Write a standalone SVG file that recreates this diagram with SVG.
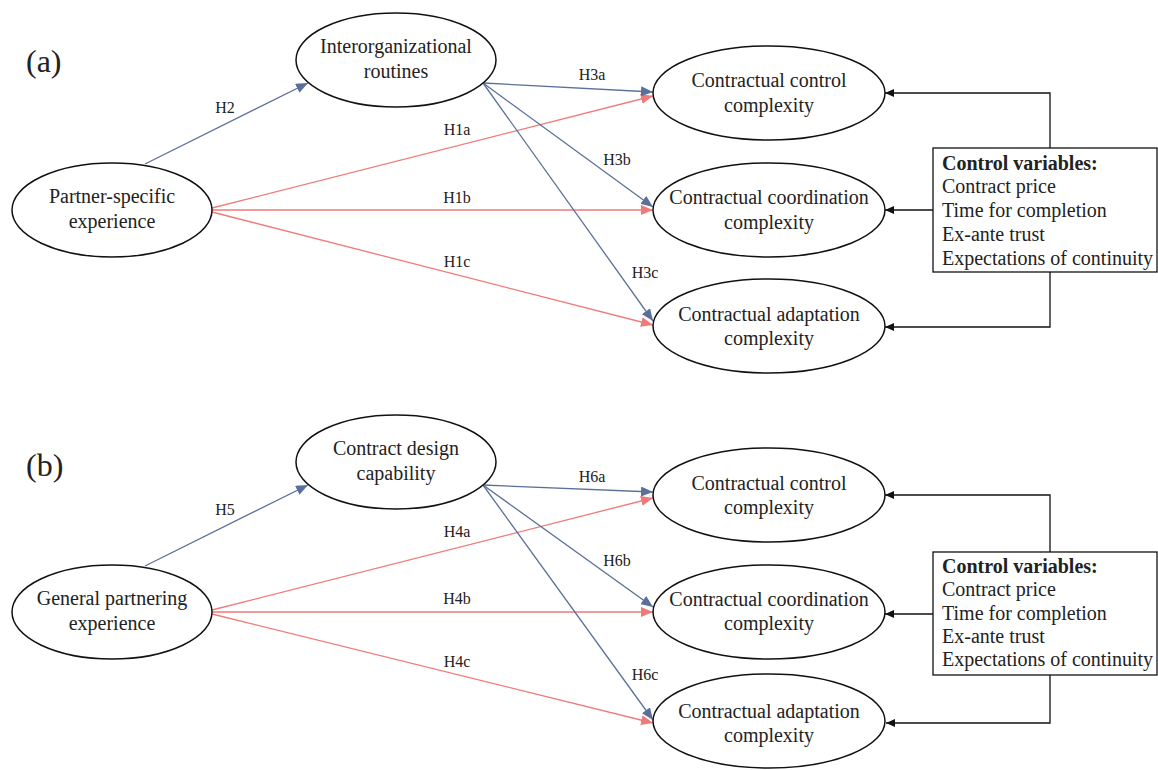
<svg xmlns="http://www.w3.org/2000/svg" width="1158" height="770" viewBox="0 0 1158 770">
<style>
text{font-family:"Liberation Serif","Times New Roman",serif;fill:#222}
.node ellipse{fill:#fff;stroke:#111;stroke-width:1.5}
.nt{font-size:20px;text-anchor:middle}
.lbl{font-size:16px;text-anchor:middle}
.panel{font-size:32px}
.blue{stroke:#5b7099;stroke-width:1.3;fill:none;marker-end:url(#ab)}
.red{stroke:#f07a78;stroke-width:1.3;fill:none;marker-end:url(#ar)}
.blk{stroke:#111;stroke-width:1.3;fill:none;marker-end:url(#ak)}
.box rect{fill:#fff;stroke:#111;stroke-width:1.3}
.cv{font-size:20px}
</style>
<defs>
<marker id="ab" markerUnits="userSpaceOnUse" markerWidth="12" markerHeight="10" refX="12" refY="5" orient="auto"><path d="M0,0 L12,5 L0,10 z" fill="#5b7099"/></marker>
<marker id="ar" markerUnits="userSpaceOnUse" markerWidth="12" markerHeight="10" refX="12" refY="5" orient="auto"><path d="M0,0 L12,5 L0,10 z" fill="#f07a78"/></marker>
<marker id="ak" markerUnits="userSpaceOnUse" markerWidth="9" markerHeight="8" refX="9" refY="4" orient="auto"><path d="M0,0 L9,4 L0,8 z" fill="#111"/></marker>
</defs>
<rect width="1158" height="770" fill="#fff"/>
<text class="panel" x="26" y="72">(a)</text>
<text class="panel" x="26" y="476">(b)</text>
<g id="connectors">
<line class="blue" x1="145" y1="164" x2="308" y2="83"/>
<line class="red" x1="212" y1="208" x2="653" y2="96"/>
<line class="red" x1="212" y1="210" x2="653" y2="210"/>
<line class="red" x1="212" y1="212" x2="653" y2="325"/>
<line class="blue" x1="483" y1="83" x2="653" y2="92"/>
<line class="blue" x1="483" y1="83" x2="653" y2="207"/>
<line class="blue" x1="483" y1="83" x2="653" y2="321"/>
<path class="blk" d="M1050,148 V93 H885"/>
<path class="blk" d="M933,210 H885"/>
<path class="blk" d="M1050,272 V327 H885"/>
<line class="blue" x1="145" y1="566" x2="308" y2="485"/>
<line class="red" x1="212" y1="610" x2="653" y2="498"/>
<line class="red" x1="212" y1="612" x2="653" y2="612"/>
<line class="red" x1="212" y1="614" x2="653" y2="723"/>
<line class="blue" x1="483" y1="485" x2="653" y2="492"/>
<line class="blue" x1="483" y1="485" x2="653" y2="607"/>
<line class="blue" x1="483" y1="485" x2="653" y2="720"/>
<path class="blk" d="M1050,552 V495 H885"/>
<path class="blk" d="M933,614 H885"/>
<path class="blk" d="M1050,675 V723 H886"/>
<text class="lbl" x="225" y="113">H2</text>
<text class="lbl" x="457" y="135">H1a</text>
<text class="lbl" x="457" y="203">H1b</text>
<text class="lbl" x="457" y="267">H1c</text>
<text class="lbl" x="592" y="80">H3a</text>
<text class="lbl" x="617" y="165">H3b</text>
<text class="lbl" x="645" y="278">H3c</text>
<text class="lbl" x="225" y="515">H5</text>
<text class="lbl" x="457" y="537">H4a</text>
<text class="lbl" x="457" y="604">H4b</text>
<text class="lbl" x="457" y="667">H4c</text>
<text class="lbl" x="592" y="482">H6a</text>
<text class="lbl" x="617" y="566">H6b</text>
<text class="lbl" x="645" y="680">H6c</text>
</g>
<g id="a-routines" class="node"><ellipse cx="396" cy="60" rx="100" ry="47"/><text class="nt" x="396" y="53">Interorganizational</text><text class="nt" x="396" y="78">routines</text></g>
<g id="a-partner" class="node"><ellipse cx="112" cy="210" rx="100" ry="47"/><text class="nt" x="112" y="203">Partner-specific</text><text class="nt" x="112" y="228">experience</text></g>
<g id="a-control" class="node"><ellipse cx="769" cy="93" rx="116" ry="47"/><text class="nt" x="769" y="87">Contractual control</text><text class="nt" x="769" y="112">complexity</text></g>
<g id="a-coord" class="node"><ellipse cx="769" cy="210" rx="116" ry="47"/><text class="nt" x="769" y="204">Contractual coordination</text><text class="nt" x="769" y="229">complexity</text></g>
<g id="a-adapt" class="node"><ellipse cx="769" cy="326" rx="116" ry="47"/><text class="nt" x="769" y="321">Contractual adaptation</text><text class="nt" x="769" y="345">complexity</text></g>
<g id="a-controls" class="box"><rect x="933" y="148" width="224" height="124"/><text class="cv" x="942" y="170" font-weight="bold">Control variables:</text><text class="cv" x="942" y="193">Contract price</text><text class="cv" x="942" y="217">Time for completion</text><text class="cv" x="942" y="241">Ex-ante trust</text><text class="cv" x="942" y="265">Expectations of continuity</text></g>
<g id="b-design" class="node"><ellipse cx="396" cy="462" rx="100" ry="47"/><text class="nt" x="396" y="455">Contract design</text><text class="nt" x="396" y="480">capability</text></g>
<g id="b-general" class="node"><ellipse cx="112" cy="612" rx="100" ry="47"/><text class="nt" x="112" y="605">General partnering</text><text class="nt" x="112" y="630">experience</text></g>
<g id="b-control" class="node"><ellipse cx="769" cy="495" rx="116" ry="47"/><text class="nt" x="769" y="490">Contractual control</text><text class="nt" x="769" y="514">complexity</text></g>
<g id="b-coord" class="node"><ellipse cx="769" cy="612" rx="116" ry="47"/><text class="nt" x="769" y="606">Contractual coordination</text><text class="nt" x="769" y="630">complexity</text></g>
<g id="b-adapt" class="node"><ellipse cx="769" cy="721" rx="116" ry="47"/><text class="nt" x="769" y="718">Contractual adaptation</text><text class="nt" x="769" y="742">complexity</text></g>
<g id="b-controls" class="box"><rect x="933" y="552" width="224" height="123"/><text class="cv" x="942" y="573" font-weight="bold">Control variables:</text><text class="cv" x="942" y="596">Contract price</text><text class="cv" x="942" y="620">Time for completion</text><text class="cv" x="942" y="643">Ex-ante trust</text><text class="cv" x="942" y="666">Expectations of continuity</text></g>
</svg>
